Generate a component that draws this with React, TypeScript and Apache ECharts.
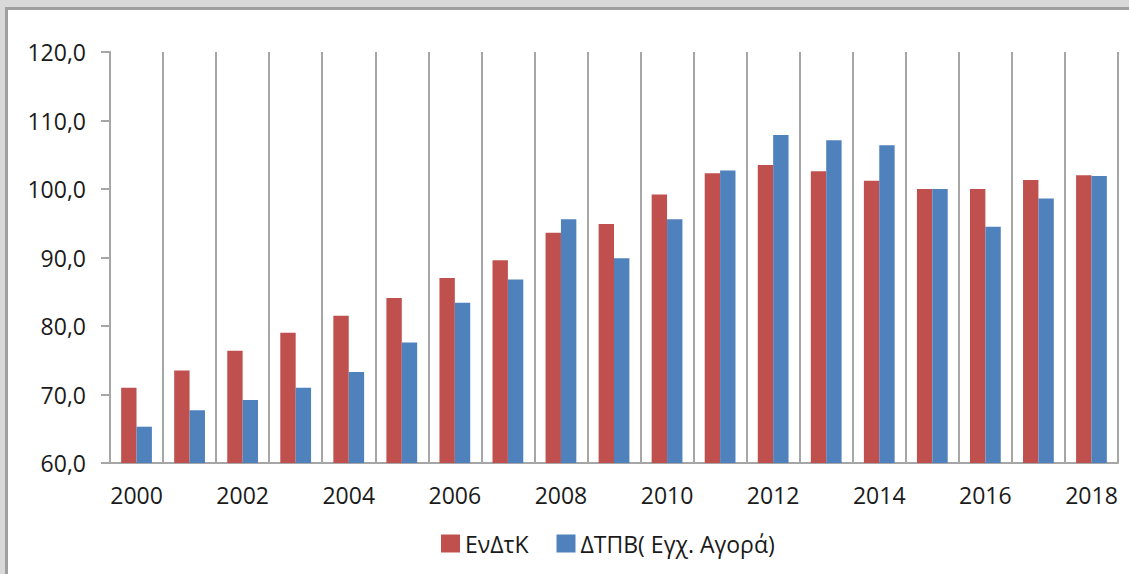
import React, { useEffect, useRef } from "react";
import * as echarts from "echarts";

const years = ["2000","2001","2002","2003","2004","2005","2006","2007","2008","2009","2010","2011","2012","2013","2014","2015","2016","2017","2018"];
const seriesNames = ["ΕνΔτΚ", "ΔΤΠΒ( Εγχ. Αγορά)"];
const endtk = [71.0, 73.5, 76.4, 79.0, 81.5, 84.1, 87.0, 89.6, 93.6, 94.9, 99.2, 102.3, 103.5, 102.6, 101.2, 100.0, 100.0, 101.3, 102.0];
const dtpv = [65.3, 67.7, 69.2, 71.0, 73.3, 77.6, 83.4, 86.8, 95.6, 89.9, 95.6, 102.7, 107.9, 107.1, 106.4, 100.0, 94.5, 98.6, 101.9];
const yMin = 60;
const yMax = 120;
const yStep = 10;

const FONT = "'Open Sans', 'Liberation Sans', sans-serif";
const TEXT = "#1a1a1a";

export default function App() {
  const ref = useRef<HTMLDivElement>(null);
  useEffect(() => {
    if (!ref.current) return;
    const chart = echarts.init(ref.current, null, { renderer: "svg" });
    chart.setOption({
      animation: false,
      textStyle: { fontFamily: FONT },
      grid: { left: 110, right: 11, top: 52, bottom: 111, containLabel: false },
      legend: {
        data: seriesNames,
        left: 436,
        top: 527,
        icon: "rect",
        itemWidth: 19,
        itemHeight: 18,
        itemGap: 28,
        textStyle: { fontFamily: FONT, fontSize: 23, color: TEXT },
      },
      xAxis: {
        type: "category",
        data: years,
        boundaryGap: true,
        axisLine: { show: true, lineStyle: { color: "#a6a6a6", width: 2 } },
        axisTick: { show: false },
        splitLine: { show: true, interval: 0, lineStyle: { color: "#a6a6a6", width: 2 } },
        axisLabel: { interval: 1, margin: 20, fontSize: 23, color: TEXT, fontFamily: FONT },
      },
      yAxis: {
        type: "value",
        min: yMin,
        max: yMax,
        interval: yStep,
        axisLine: { show: true, lineStyle: { color: "#a6a6a6", width: 2 } },
        axisTick: { show: true, length: 9, lineStyle: { color: "#a6a6a6", width: 2 } },
        splitLine: { show: false },
        axisLabel: {
          margin: 24,
          fontSize: 23,
          color: TEXT,
          fontFamily: FONT,
          formatter: (v: number) => v.toFixed(1).replace(".", ","),
        },
      },
      series: [
        {
          name: seriesNames[0],
          type: "bar",
          data: endtk,
          barWidth: "29%",
          barGap: "0%",
          itemStyle: { color: "#c0504d" },
        },
        {
          name: seriesNames[1],
          type: "bar",
          data: dtpv,
          barWidth: "29%",
          barGap: "0%",
          itemStyle: { color: "#4f81bd" },
        },
      ],
    });
    return () => chart.dispose();
  }, []);

  return (
    <div style={{ position: "fixed", left: 0, top: 0, width: 1129, height: 574, background: "#d9d9d9", overflow: "hidden" }}>
      <div style={{ position: "absolute", left: 5, top: 7, width: 1200, height: 700, background: "#fff", borderLeft: "3px solid #a0a0a0", borderTop: "3px solid #a0a0a0" }} />
      <div ref={ref} style={{ position: "absolute", left: 0, top: 0, width: 1129, height: 574 }} />
    </div>
  );
}
